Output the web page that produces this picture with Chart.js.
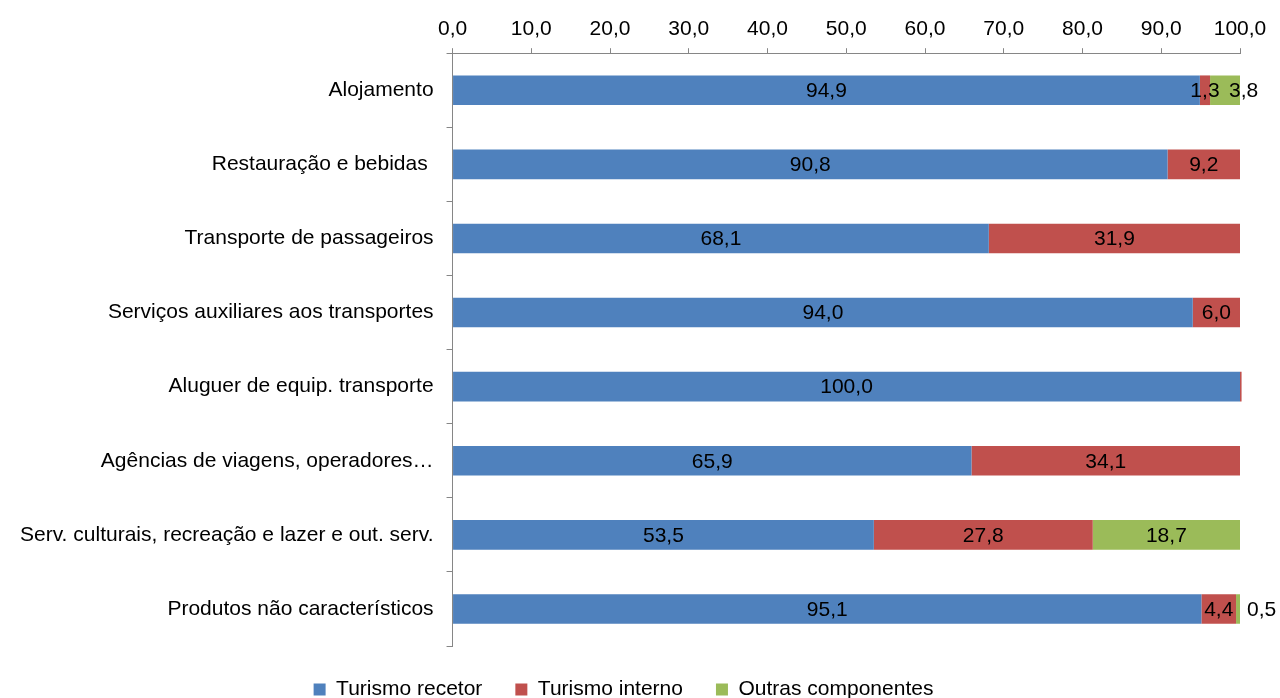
<!DOCTYPE html>
<html>
<head>
<meta charset="utf-8">
<script src="https://cdn.jsdelivr.net/npm/chart.js@4"></script>
<style>
  html, body { margin: 0; padding: 0; background: #fff; }
  #wrap { width: 1280px; height: 698px; }
</style>
</head>
<body>
<div id="wrap"><canvas id="chart" width="1280" height="698"></canvas></div>
<script>
var categories = [
  'Alojamento',
  'Restauração e bebidas ',
  'Transporte de passageiros',
  'Serviços auxiliares aos transportes',
  'Aluguer de equip. transporte',
  'Agências de viagens, operadores…',
  'Serv. culturais, recreação e lazer e out. serv.',
  'Produtos não característicos'
];
var seriesNames = ['Turismo recetor', 'Turismo interno', 'Outras componentes'];
var recetor = [94.9, 90.8, 68.1, 94.0, 100.0, 65.9, 53.5, 95.1];
var interno = [1.3, 9.2, 31.9, 6.0, 0.2, 34.1, 27.8, 4.4];
var outras = [3.8, 0, 0, 0, 0, 0, 18.7, 0.5];
var xTicks = [0, 10, 20, 30, 40, 50, 60, 70, 80, 90, 100];

var FONT = '"Liberation Sans", Arial, sans-serif';
var FS = 21;

function fmt(v) {
  return v.toFixed(1).replace('.', ',');
}

// Draw the value labels inside the segments
var valueLabels = {
  id: 'valueLabels',
  afterDatasetsDraw: function(chart) {
    var ctx = chart.ctx;
    ctx.save();
    ctx.font = FS + 'px ' + FONT;
    ctx.fillStyle = '#000';
    ctx.textBaseline = 'middle';
    chart.data.datasets.forEach(function(ds, di) {
      var meta = chart.getDatasetMeta(di);
      meta.data.forEach(function(bar, i) {
        var v = ds.data[i];
        if (!v || v < 0.5) return;
        var txt = fmt(v);
        var w = Math.abs(bar.x - bar.base);
        var tw = ctx.measureText(txt).width;
        if (di === 2 && tw + 4 > w) {
          // small last segment: put label beside the bar end
          ctx.textAlign = 'left';
          ctx.fillText(txt, w > 20 ? bar.x - 11 : bar.x + 7, bar.y + 1);
        } else {
          ctx.textAlign = 'center';
          ctx.fillText(txt, (bar.x + bar.base) / 2, bar.y + 1);
        }
      });
    });
    ctx.restore();
  }
};

// Keep the legend band short so the plot reaches down like the original
var shortLegend = {
  id: 'shortLegend',
  beforeLayout: function(chart) {
    var lg = chart.legend;
    if (lg && !lg._shortened) {
      var fit = lg.fit;
      lg.fit = function() {
        fit.call(this);
        this.height = 52;
      };
      lg._shortened = true;
    }
  }
};

new Chart(document.getElementById('chart').getContext('2d'), {
  type: 'bar',
  data: {
    labels: categories,
    datasets: [
      { label: seriesNames[0], data: recetor, backgroundColor: '#4F81BD' },
      { label: seriesNames[1], data: interno, backgroundColor: '#C0504D', clip: false },
      { label: seriesNames[2], data: outras, backgroundColor: '#9BBB59' }
    ]
  },
  options: {
    indexAxis: 'y',
    responsive: false,
    animation: false,
    layout: { padding: { left: 7, right: 40, top: 11, bottom: 0 } },
    datasets: {
      bar: { barPercentage: 1, categoryPercentage: 0.4 }
    },
    scales: {
      x: {
        position: 'top',
        stacked: true,
        min: 0,
        max: 100,
        afterBuildTicks: function(axis) {
          axis.ticks = xTicks.map(function(v) { return { value: v }; });
        },
        ticks: {
          color: '#000',
          font: { family: FONT, size: FS },
          padding: 6,
          maxRotation: 0,
          callback: function(v) { return fmt(v); }
        },
        grid: { drawOnChartArea: false, color: '#868686', tickLength: 5 },
        border: { color: '#868686' }
      },
      y: {
        stacked: true,
        ticks: {
          color: '#000',
          font: { family: FONT, size: FS },
          padding: 13
        },
        grid: { drawOnChartArea: false, offset: true, color: '#868686', tickLength: 6 },
        border: { color: '#868686' }
      }
    },
    plugins: {
      legend: {
        position: 'bottom',
        labels: {
          color: '#000',
          font: { family: FONT, size: FS },
          boxWidth: 12,
          boxHeight: 12,
          padding: 33
        }
      },
      tooltip: { enabled: false }
    }
  },
  plugins: [valueLabels, shortLegend]
});
</script>
</body>
</html>
